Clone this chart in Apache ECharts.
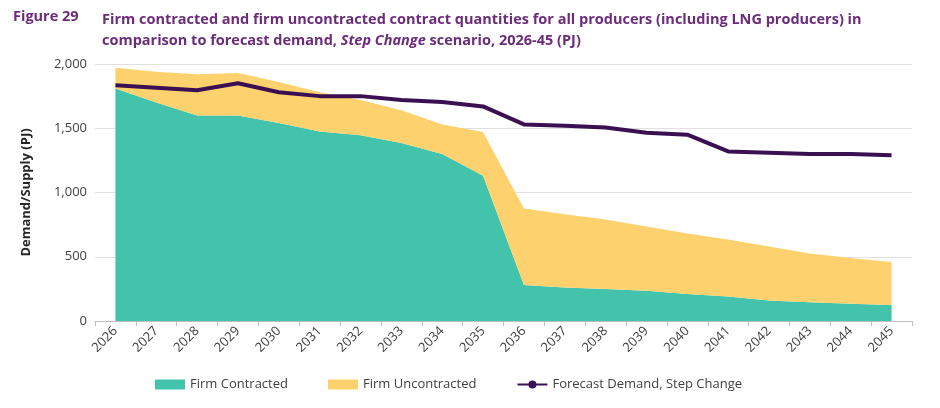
<!DOCTYPE html><html><head><meta charset="utf-8"><script src="https://cdn.jsdelivr.net/npm/echarts@6/dist/echarts.min.js"></script></head><body style="margin:0;background:#fff"><div id="c" style="width:940px;height:408px"></div><script>
const years=['2026','2027','2028','2029','2030','2031','2032','2033','2034','2035','2036','2037','2038','2039','2040','2041','2042','2043','2044','2045'];
const contracted=[1810,1700,1600,1600,1540,1475,1445,1385,1300,1130,280,260,250,235,210,190,160,145,135,125];
const uncontracted=[160,240,320,330,320,305,275,255,230,340,595,570,540,500,470,445,420,380,355,335];
const demand=[1835,1815,1795,1850,1780,1750,1750,1720,1705,1670,1530,1520,1505,1465,1450,1320,1310,1300,1300,1290];
const yTicks=[0,500,1000,1500,2000];
const ch=echarts.init(document.getElementById('c'));
ch.setOption({animation:false,
title:[{text:'Figure 29',left:8,top:4,textStyle:{fontFamily:'Open Sans',fontSize:14.5,fontWeight:'bold',color:'#6B2C7A'}},
{text:'Firm contracted and firm uncontracted contract quantities for all producers (including LNG producers) in\ncomparison to forecast demand, {i|Step Change} scenario, 2026-45 (PJ)',left:97,top:4,textStyle:{fontFamily:'Open Sans',fontSize:14.5,fontWeight:'bold',color:'#6B2C7A',lineHeight:21,rich:{i:{fontStyle:'italic',fontWeight:'bold',fontFamily:'Open Sans',fontSize:14.5,color:'#6B2C7A'}}}}],
grid:{left:95,right:28,top:64,bottom:87},
legend:{bottom:12,left:150,itemGap:40,itemWidth:30,itemHeight:10,textStyle:{fontFamily:'Open Sans',fontSize:13,color:'#404040'},data:[{name:'Firm Contracted',icon:'rect'},{name:'Firm Uncontracted',icon:'rect'},{name:'Forecast Demand, Step Change'}]},
xAxis:{type:'category',data:years,boundaryGap:true,axisTick:{show:true,alignWithLabel:false,length:5,lineStyle:{color:'#bfbfbf'}},axisLine:{lineStyle:{color:'#bfbfbf'}},axisLabel:{rotate:45,fontFamily:'Open Sans',fontSize:13,color:'#404040',interval:0}},
yAxis:{type:'value',min:0,max:2000,interval:500,name:'Demand/Supply (PJ)',nameLocation:'middle',nameGap:62,nameTextStyle:{fontFamily:'Open Sans',fontSize:13,fontWeight:'bold',color:'#262626'},axisLabel:{fontFamily:'Open Sans',fontSize:13,color:'#404040',formatter:v=>v.toLocaleString('en-US')},splitLine:{lineStyle:{color:'#e0e0e0'}}},
series:[{name:'Firm Contracted',type:'line',stack:'s',data:contracted,symbol:'none',lineStyle:{width:0},areaStyle:{color:'#43C2AC',opacity:1},itemStyle:{color:'#43C2AC'}},
{name:'Firm Uncontracted',type:'line',stack:'s',data:uncontracted,symbol:'none',lineStyle:{width:0},areaStyle:{color:'#FDD26E',opacity:1},itemStyle:{color:'#FDD26E'}},
{name:'Forecast Demand, Step Change',type:'line',data:demand,symbol:'none',lineStyle:{width:4,color:'#3B1053'},itemStyle:{color:'#3B1053'}}]});
</script></body></html>
